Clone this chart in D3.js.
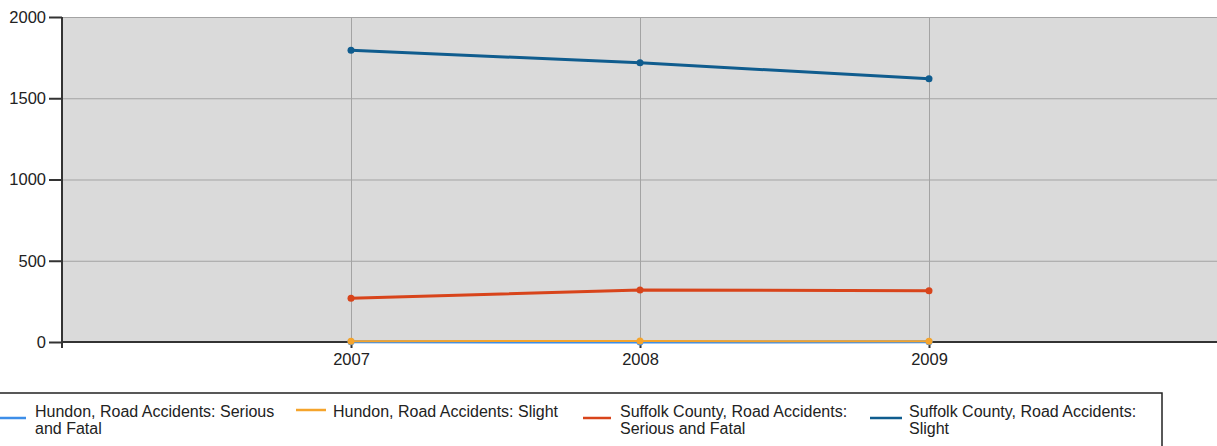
<!DOCTYPE html>
<html><head><meta charset="utf-8">
<script src="https://cdn.jsdelivr.net/npm/d3@7"></script>
<style>
html,body{margin:0;padding:0;background:#fff;}
svg{display:block;font-family:"Liberation Sans",Arial,sans-serif;}
</style></head>
<body>
<svg id="c" width="1217" height="446"></svg>
<script>
const years = [2007, 2008, 2009];
const yTicks = [0, 500, 1000, 1500, 2000];
const seriesNames = [
  ["Hundon, Road Accidents: Serious", "and Fatal"],
  ["Hundon, Road Accidents: Slight"],
  ["Suffolk County, Road Accidents:", "Serious and Fatal"],
  ["Suffolk County, Road Accidents:", "Slight"]
];
const hundonSerious = [1, 0, 1];
const hundonSlight = [5, 6, 4];
const suffolkSerious = [269, 320, 316];
const suffolkSlight = [1795, 1718, 1620];
const colors = ["#3d8ee8", "#f5a42c", "#d8441b", "#0f5c8e"];
const seriesData = [hundonSerious, hundonSlight, suffolkSerious, suffolkSlight];

const svg = d3.select("#c");
const L = 62, R = 1218, T = 17, B = 342;
const x = d3.scaleLinear().domain([2006, 2010]).range([L, R]);
const y = d3.scaleLinear().domain([0, 2000]).range([B, T]);

svg.append("rect").attr("x", L).attr("y", T).attr("width", R - L).attr("height", B - T).attr("fill", "#dadada");

// gridlines
svg.append("g").selectAll("line").data(yTicks.filter(d => d > 0)).join("line")
  .attr("x1", L).attr("x2", R).attr("y1", d => y(d) + 0.5).attr("y2", d => y(d) + 0.5)
  .attr("stroke", "#a3a3a3").attr("stroke-width", 1);
svg.append("g").selectAll("line").data(years).join("line")
  .attr("x1", d => Math.round(x(d)) + 0.5).attr("x2", d => Math.round(x(d)) + 0.5).attr("y1", T).attr("y2", B)
  .attr("stroke", "#a3a3a3").attr("stroke-width", 1);

// axes
const yAxis = d3.axisLeft(y).tickValues(yTicks).tickSize(13).tickPadding(3).tickFormat(d3.format("d"));
const gy = svg.append("g").attr("transform", `translate(${L},0)`).call(yAxis);
gy.select(".domain").attr("stroke", "#333").attr("stroke-width", 2).attr("d", `M0,${T}V${B + 6}`);
gy.selectAll(".tick line").attr("stroke", "#333").attr("stroke-width", 2);
gy.selectAll("text").attr("font-size", 16.5).attr("fill", "#222").attr("font-family", "Liberation Sans, Arial, sans-serif");

const xAxis = d3.axisBottom(x).tickValues(years).tickSize(6).tickPadding(5).tickFormat(d3.format("d"));
const gx = svg.append("g").attr("transform", `translate(0,${B})`).call(xAxis);
gx.select(".domain").attr("stroke", "#333").attr("stroke-width", 2).attr("d", `M${L - 1},0H${R}`);
gx.selectAll(".tick line").attr("stroke", "#333").attr("stroke-width", 2);
gx.selectAll("text").attr("font-size", 16.5).attr("fill", "#222").attr("font-family", "Liberation Sans, Arial, sans-serif");

// lines
const line = d3.line().x((d, i) => x(years[i])).y(d => y(d));
seriesData.forEach((s, k) => {
  svg.append("path").datum(s).attr("d", line).attr("fill", "none")
    .attr("stroke", colors[k]).attr("stroke-width", k === 1 ? 2 : 3);
  svg.append("g").selectAll("circle").data(s).join("circle")
    .attr("cx", (d, i) => x(years[i])).attr("cy", d => y(d)).attr("r", 3.5).attr("fill", colors[k]);
});

// legend
svg.append("rect").attr("x", -2).attr("y", 393).attr("width", 1164).attr("height", 80)
  .attr("fill", "none").attr("stroke", "#222").attr("stroke-width", 1.5);
const legX = [[0, 26, 35], [296, 326, 333], [583, 611, 620], [870, 902, 909]];
seriesNames.forEach((nm, k) => {
  const ly = nm.length > 1 ? 418 : 410;
  svg.append("line").attr("x1", legX[k][0]).attr("x2", legX[k][1]).attr("y1", ly).attr("y2", ly)
    .attr("stroke", colors[k]).attr("stroke-width", 2.5);
  const t = svg.append("text").attr("x", legX[k][2]).attr("y", 417).attr("font-size", 16).attr("fill", "#222");
  nm.forEach((s, j) => t.append("tspan").attr("x", legX[k][2]).attr("dy", j === 0 ? 0 : 17).text(s));
});
</script>
</body></html>
